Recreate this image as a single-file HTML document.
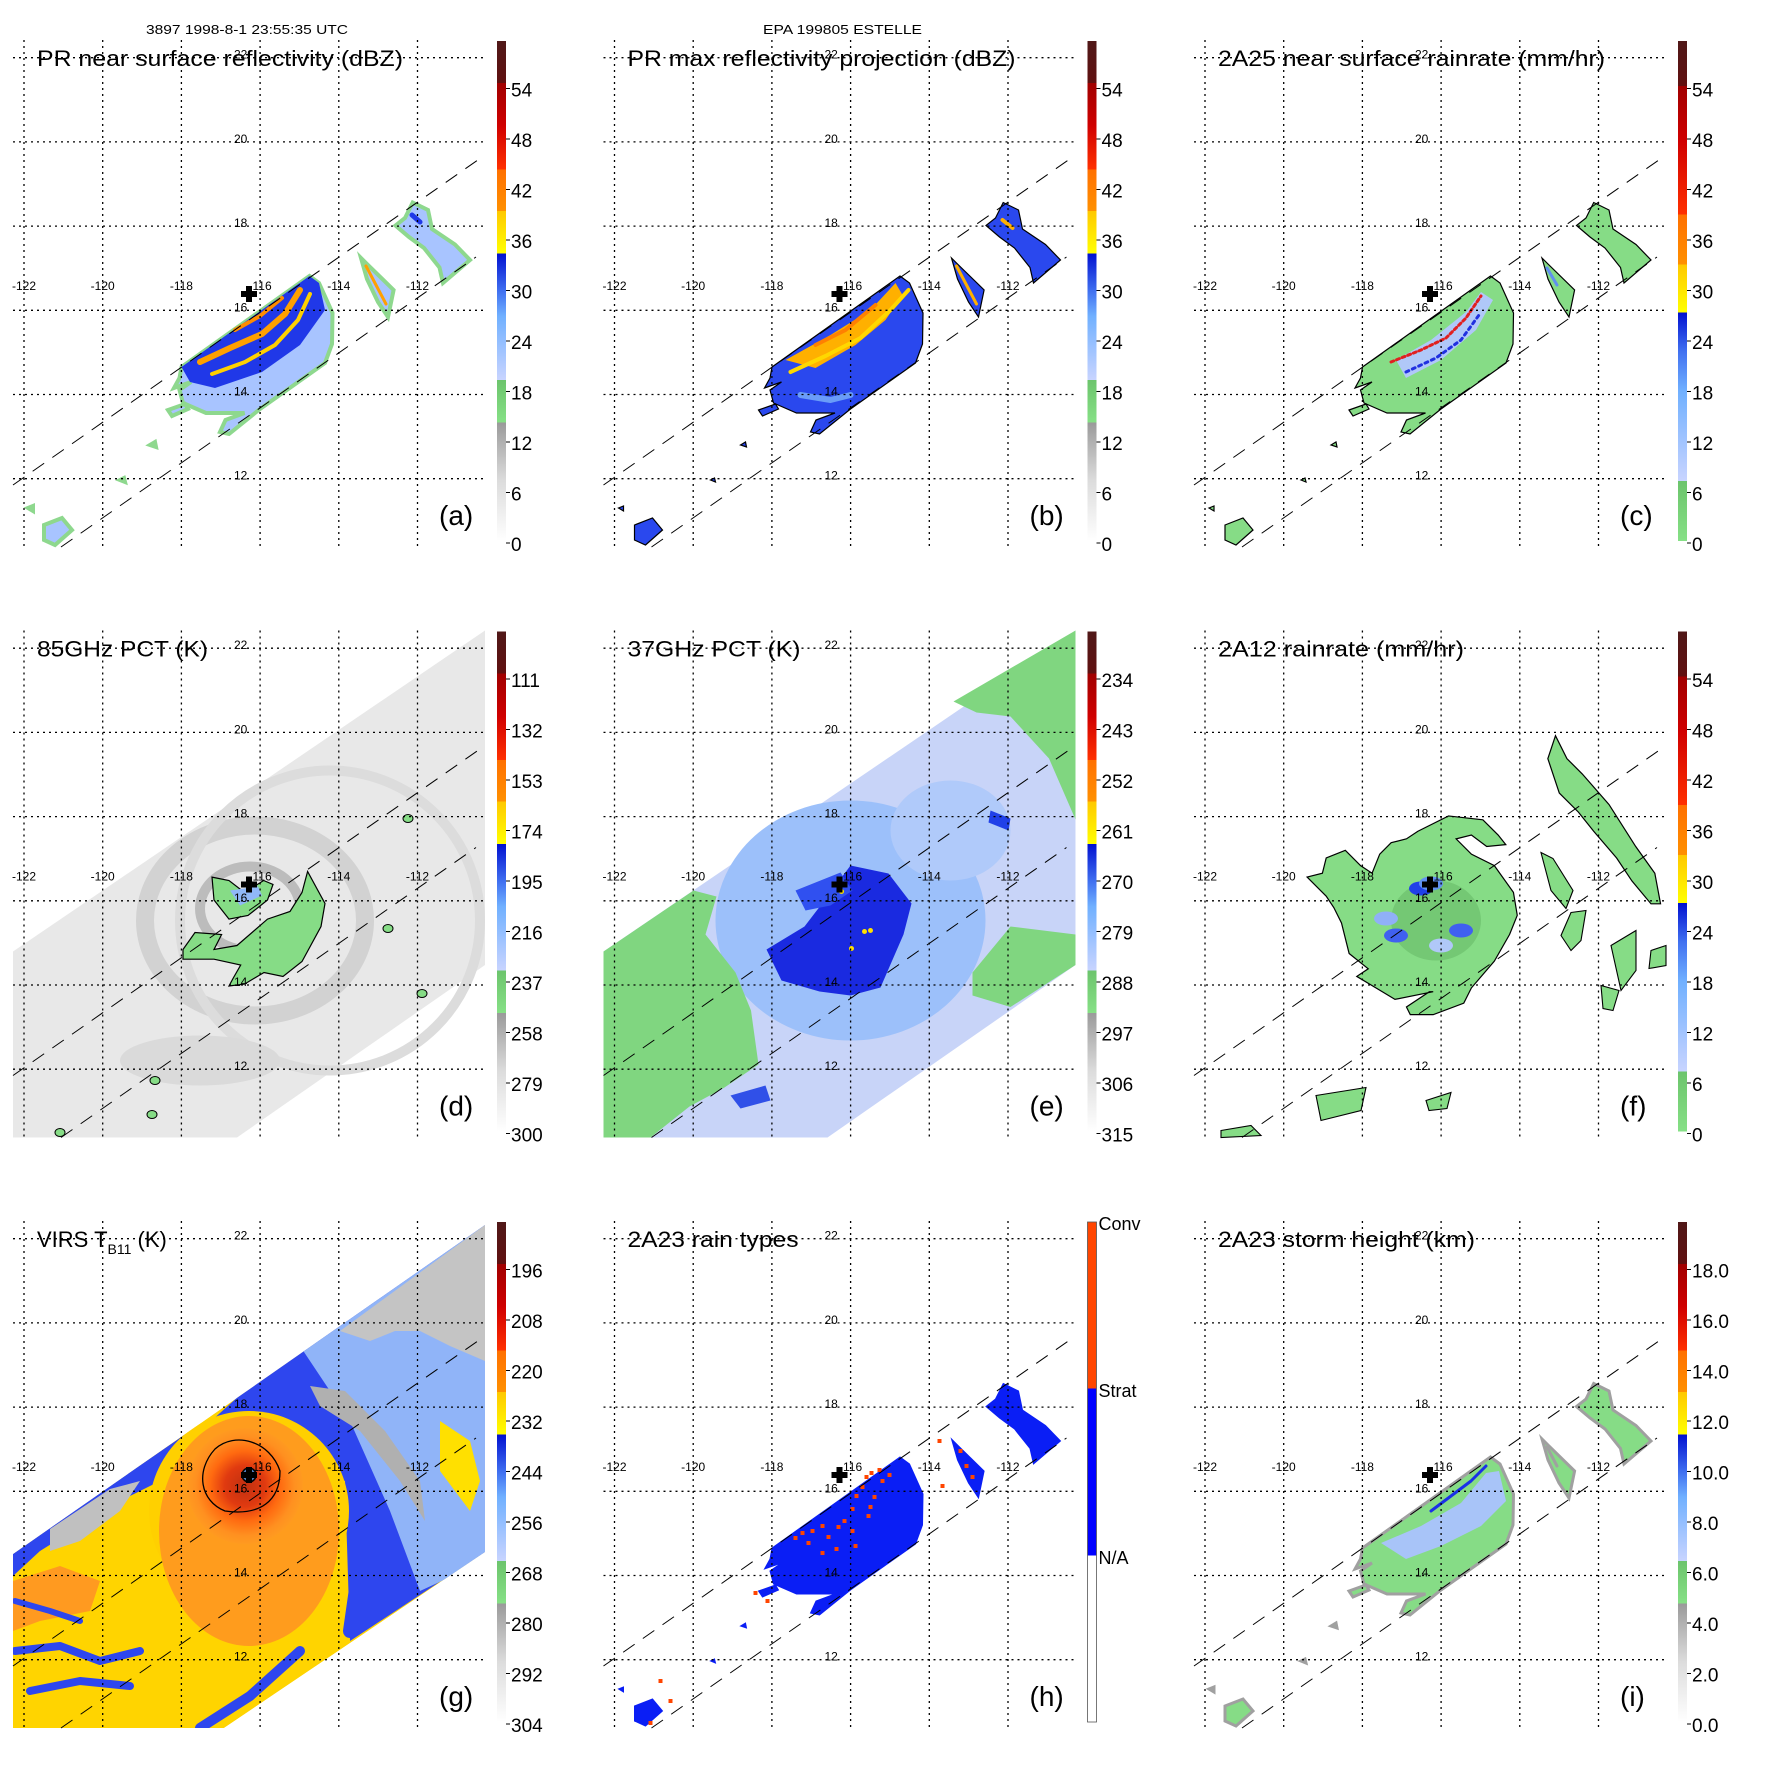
<!DOCTYPE html>
<html><head><meta charset="utf-8">
<style>
html,body{margin:0;padding:0;background:#fff;}
svg{display:block;font-family:"Liberation Sans",Arial,sans-serif;}
</style></head>
<body>
<svg id="fig" width="1771" height="1771" viewBox="0 0 1771 1771" xmlns="http://www.w3.org/2000/svg">
<text x="146" y="34" font-size="13" textLength="202" lengthAdjust="spacingAndGlyphs">3897 1998-8-1 23:55:35 UTC</text>
<text x="763" y="34" font-size="13" textLength="159" lengthAdjust="spacingAndGlyphs">EPA 199805 ESTELLE</text>
</svg>
<script>
// ---- data arrays ----
const lonTicks = [-122,-120,-118,-116,-114,-112];
const latTicks = [22,20,18,16,14,12];
const cbarA = ["0","6","12","18","24","30","36","42","48","54"];
const cbarC = ["0","6","12","18","24","30","36","42","48","54"];
const cbarD = ["300","279","258","237","216","195","174","153","132","111"];
const cbarE = ["315","306","297","288","279","270","261","252","243","234"];
const cbarG = ["304","292","280","268","256","244","232","220","208","196"];
const cbarI = ["0.0","2.0","4.0","6.0","8.0","10.0","12.0","14.0","16.0","18.0"];
const cbarH = ["N/A","Strat","Conv"];
const titles = ["PR near surface reflectivity (dBZ)","PR max reflectivity projection (dBZ)","2A25 near surface rainrate (mm/hr)",
  "85GHz PCT (K)","37GHz PCT (K)","2A12 rainrate (mm/hr)","VIRS","2A23 rain types","2A23 storm height (km)"];
const titleW = [366,388,387,171,173,246,146,171,257];
const letters = ["(a)","(b)","(c)","(d)","(e)","(f)","(g)","(h)","(i)"];

const NS="http://www.w3.org/2000/svg";
const fig=document.getElementById('fig');
const P=590.5;
const lonX = lon => 24 + (lon+122)*39.35;
const latY = lat => 57.7 + (22-lat)*42.1;
function mk(tag,attrs,parent){const e=document.createElementNS(NS,tag);for(const k in attrs)e.setAttribute(k,attrs[k]);parent.appendChild(e);return e;}
function pts(a){return a.map(p=>p.join(',')).join(' ');}

const palStd=[[0,'#ffffff'],[0.12,'#dcdcdc'],[0.237,'#9a9a9a'],[0.237,'#86e086'],[0.322,'#6cc46c'],[0.322,'#c8d4ff'],[0.45,'#70b0ff'],[0.5,'#4070f0'],[0.575,'#0010d0'],[0.575,'#ffff00'],[0.66,'#ffc800'],[0.66,'#ff9000'],[0.743,'#ff7000'],[0.743,'#ff3000'],[0.83,'#d00000'],[0.916,'#a00000'],[0.916,'#601010'],[1,'#501818']];
const palRain=[[0,'#86e086'],[0.12,'#6cc46c'],[0.12,'#c8d4ff'],[0.3,'#70b0ff'],[0.38,'#4070f0'],[0.457,'#0010d0'],[0.457,'#ffff00'],[0.553,'#ffc800'],[0.553,'#ff9000'],[0.653,'#ff7000'],[0.653,'#ff3000'],[0.8,'#d00000'],[0.91,'#a00000'],[0.91,'#601010'],[1,'#501818']];

const defs=mk('defs',{},fig);
function grad(id,pal){const g=mk('linearGradient',{id:id,x1:0,y1:1,x2:0,y2:0},defs);pal.forEach(s=>mk('stop',{offset:s[0],'stop-color':s[1]},g));}
grad('pstd',palStd);grad('prain',palRain);
const gh=mk('linearGradient',{id:'phh',x1:0,y1:1,x2:0,y2:0},defs);
[[0,'#fff'],[0.333,'#fff'],[0.333,'#0000ff'],[0.667,'#0000ff'],[0.667,'#ff4500'],[1,'#ff4500']].forEach(s=>mk('stop',{offset:s[0],'stop-color':s[1]},gh));
const rg=mk('radialGradient',{id:'gEye',cx:0.5,cy:0.5,r:0.5},defs);
[[0,'#c03010'],[0.35,'#e03a10'],[0.6,'#ff6a10'],[0.85,'#ff9020'],[1,'#ff9a20']].forEach(s=>mk('stop',{offset:s[0],'stop-color':s[1]},rg));

const prBlob=[[181.5,367],[309.5,276],[319,283],[332.5,313],[332,344],[325,363],[260,409],[229,434],[220,432],[225.5,420],[244.5,413],[206,413],[183,403],[179.5,390],[191,382],[174,388],[179.5,378]];
const prRight=[[412.7,202.5],[428,210],[432,229],[455,244.5],[470,260],[443,283],[439.5,267.5],[424,248],[409,237],[395.5,225.5],[405,218]];
const prMid=[[361,258],[367,264],[393.6,290],[388,317],[378,302],[367,279]];
const prBL=[[44,525],[62,518],[72,530],[55,545],[44,540]];
const tmiSwath=[[13,361],[485,40],[485,374.5],[237,547],[13,547]];
const virsSwath=[[13,373],[485,44],[485,371],[224,547],[13,547]];
const convDots=[[205,357],[212,352],[222,350],[232,345],[238,356],[248,346],[254,340],[262,328],[266,315],[272,306],[276,296],[281,292],[289,289],[292,300],[284,316],[278,335],[262,350],[246,368],[232,372],[218,362],[265,365],[280,326],[299,294],[370,270],[376,285],[382,296],[349,260],[352,305],[70,500],[80,520],[60,542],[165,412],[177,420]];

function panel(idx){
  const col=idx%3,row=Math.floor(idx/3);
  const g=mk('g',{transform:`translate(${col*P},${row*P})`},fig);
  
  
  const f=mk('g',{},g);
  
  
  drawField(idx,f);
  const gr=mk('g',{stroke:'#000','stroke-width':1.3,'stroke-dasharray':'2,4',fill:'none'},g);
  
  
  lonTicks.forEach(l=>mk('line',{x1:lonX(l),x2:lonX(l),y1:40,y2:547},gr));
  latTicks.forEach(l=>mk('line',{x1:13,x2:486,y1:latY(l),y2:latY(l)},gr));
  const sw=mk('g',{stroke:'#000','stroke-width':1,'stroke-dasharray':'14,10',fill:'none'},g);
  
  
  mk('line',{x1:13,y1:485,x2:485,y2:155},sw);
  mk('line',{x1:61,y1:547,x2:476,y2:257},sw);
  lonTicks.forEach(l=>{const t=mk('text',{x:lonX(l),y:290,'font-size':12,'text-anchor':'middle'},g);t.textContent=l;
    });
  latTicks.forEach(l=>{const t=mk('text',{x:234,y:latY(l)+1,'font-size':12},g);t.textContent=l;
    });
  const cr=mk('path',{d:'M246,286h6v5h5v6h-5v5h-6v-5h-5v-6h5z',fill:'#000'},g);
  
  
  let t;
  if(idx===6){
    t=mk('text',{x:37,y:66,'font-size':22},g);
    t.innerHTML='VIRS T<tspan font-size="14" dy="7">B11</tspan><tspan dy="-7"> (K)</tspan>';
  } else {
    t=mk('text',{x:37,y:66,'font-size':22,textLength:titleW[idx],lengthAdjust:'spacingAndGlyphs'},g);
    t.textContent=titles[idx];
  }
  
  
  const lt=mk('text',{x:439,y:525,'font-size':28},g);lt.textContent=letters[idx];
  
  const cb=mk('g',{},g);
  
  
  const fillId = idx===7?'phh':(idx===2||idx===5)?'prain':'pstd';
  mk('rect',{x:497,y:41,width:9,height:500,fill:`url(#${fillId})`,stroke:idx===7?'#555':'none','stroke-width':0.8},cb);
  const labs={0:cbarA,1:cbarA,2:cbarC,3:cbarD,4:cbarE,5:cbarC,6:cbarG,8:cbarI}[idx];
  if(idx===7){
    cbarH.forEach((s,i)=>{
      const yy=[375,208,41][i];
      const tx=mk('text',{x:508,y:yy+8,'font-size':18},cb);tx.textContent=s;
      });
  } else {
    labs.forEach((s,i)=>{const y=543-i*50.5;
      mk('line',{x1:506,x2:510,y1:y,y2:y,stroke:'#000','stroke-width':1},cb);
      const tx=mk('text',{x:511,y:y+8,'font-size':19},cb);tx.textContent=s;
      });
  }
}

function poly(p,a,parent){return mk('polygon',Object.assign({points:pts(p)},a),parent);}
function line(p,a,parent){return mk('polyline',Object.assign({points:pts(p),fill:'none','stroke-linecap':'round','stroke-linejoin':'round'},a),parent);}

function prBase(f,fill,stroke,sw){
  [prBlob,prRight,prMid,prBL].forEach(p=>poly(p,{fill:fill,stroke:stroke,'stroke-width':sw},f));
  [[[168,410],[185,404],[188,409],[172,416]],[[150,445],[155,442],[156,447]],[[120,480],[124,478],[125,482]],[[28,508],[33,506],[33,511]]].forEach(p=>poly(p,{fill:fill,stroke:stroke,'stroke-width':sw},f));
}

function drawField(i,f){
  if(i===0){
    prBase(f,'#a8c4ff','#8ed88e',4);
    poly([[181.5,367],[309.5,276],[319,283],[325,310],[300,345],[262,372],[215,388],[190,382]],{fill:'#2038e8'},f);
    line([[200,362],[230,348],[262,334],[285,314],[300,290]],{stroke:'#ffa000','stroke-width':6},f);
    line([[212,374],[245,362],[275,345],[298,320],[310,294]],{stroke:'#ffd000','stroke-width':4},f);
    line([[235,330],[260,316],[282,298]],{stroke:'#ff8c00','stroke-width':4},f);
    line([[366,266],[376,285],[386,304]],{stroke:'#ffa000','stroke-width':3},f);
    line([[412,215],[420,222]],{stroke:'#2038e8','stroke-width':5},f);
  } else if(i===1){
    prBase(f,'#2a48ee','#000',1.2);
    poly([[195,360],[240,335],[280,310],[305,283],[312,295],[295,320],[265,345],[225,368]],{fill:'#ffb000'},f);
    line([[200,372],[235,356],[270,338],[300,310],[318,290]],{stroke:'#ffd800','stroke-width':4},f);
    line([[225,345],[255,330],[285,305]],{stroke:'#ff8000','stroke-width':4},f);
    line([[210,395],[240,400],[260,395]],{stroke:'#6a9cf8','stroke-width':6},f);
    line([[366,266],[376,285],[386,304]],{stroke:'#ffb000','stroke-width':3},f);
    line([[412,220],[422,228]],{stroke:'#ffb000','stroke-width':4},f);
  } else if(i===2){
    prBase(f,'#86dc86','#000',1.2);
    poly([[215,360],[250,340],[285,312],[300,292],[312,300],[295,330],[260,360],[225,378]],{fill:'#b0c8f8'},f);
    line([[210,362],[240,350],[265,338],[285,318],[300,296]],{stroke:'#e02020','stroke-width':3,'stroke-dasharray':'3,3'},f);
    line([[225,372],[255,358],[280,340],[298,315]],{stroke:'#2030e0','stroke-width':3,'stroke-dasharray':'3,4'},f);
    line([[366,268],[376,285]],{stroke:'#6090f0','stroke-width':3},f);
  } else if(i===3){
    poly(tmiSwath,{fill:'#e8e8e8'},f);
    mk('ellipse',{cx:255,cy:330,rx:110,ry:95,fill:'none',stroke:'#d2d2d2','stroke-width':18},f);
    mk('ellipse',{cx:250,cy:318,rx:50,ry:42,fill:'none',stroke:'#bcbcbc','stroke-width':10},f);
    mk('ellipse',{cx:330,cy:330,rx:150,ry:150,fill:'none',stroke:'#dcdcdc','stroke-width':10},f);
    mk('ellipse',{cx:200,cy:470,rx:80,ry:25,fill:'#dadada'},f);
    const big=[[183,359],[195,342],[221.6,344],[214,359],[237,355],[267.5,328.6],[290,321],[302,302],[307.6,281],[325,313],[321,336],[302,371],[283,386],[264,382],[244.5,393.6],[229,395.5],[233,388],[240.7,374.5],[214,368.7],[183,368.7]];
    const eye=[[212,286.6],[229,290],[244.5,302],[263.6,290],[273,294],[267.5,309.5],[248,325],[229,328.6],[214,309.5]];
    poly(big,{fill:'#86dc86',stroke:'#000','stroke-width':1.2},f);
    poly(eye,{fill:'#86dc86',stroke:'#000','stroke-width':1.2},f);
    poly([[230,300],[258,296],[262,305],[240,315]],{fill:'#90b8f8'},f);
    [[408,228],[388,338],[422,403],[152,524],[60,542],[155,490]].forEach(c=>mk('ellipse',{cx:c[0],cy:c[1],rx:5,ry:4,fill:'#86dc86',stroke:'#000','stroke-width':1},f));
  } else if(i===4){
    poly(tmiSwath,{fill:'#c8d4f8'},f);
    mk('ellipse',{cx:260,cy:330,rx:135,ry:120,fill:'#9cc0fa'},f);
    mk('ellipse',{cx:360,cy:240,rx:60,ry:50,fill:'#b0cafa'},f);
    poly([[13,361],[103,300],[126,306],[115,344],[145,382],[160.5,420],[168,474],[134,497],[99,516],[60,547],[13,547]],{fill:'#80d680'},f);
    poly([[363,111],[485,40],[485,229],[458.5,168],[420,126],[386,122]],{fill:'#80d680'},f);
    poly([[382,382],[420,336],[485,344],[485,374.5],[420,416.5],[382,405]],{fill:'#80d680'},f);
    poly([[176,359],[214,336],[237,306],[260,275],[298,283],[321,313],[313,344],[290,397],[260,405],[229,401],[191,390]],{fill:'#1a2ae0'},f);
    poly([[205,300],[250,282],[262,300],[240,315],[215,320]],{fill:'#3050f0'},f);
    poly([[400,220],[420,228],[418,240],[398,232]],{fill:'#2040e8'},f);
    poly([[140,505],[175,495],[180,510],[150,518]],{fill:'#3050e8'},f);
    [[251,301],[274,341],[280,340],[261,358]].forEach(c=>mk('circle',{cx:c[0],cy:c[1],r:2.5,fill:'#ffe000'},f));
  } else if(i===5){
    const disk=[[620,630],[700,590],[790,600],[830,640],[850,665],[800,670],[760,640],[720,650],[760,690],[820,720],[870,790],[880,850],[860,900],[820,970],[760,1040],[740,1080],[660,1110],[600,1110],[590,1090],[650,1050],[660,1050],[560,1070],[510,1040],[460,1010],[490,990],[440,950],[420,870],[400,830],[380,800],[330,750],[370,740],[380,700],[430,680],[470,720],[500,740],[520,690],[550,660],[590,650]].map(p=>[p[0]/2.617,p[1]/2.617]);
    const arc=[[980,380],[1010,440],[1050,480],[1120,560],[1190,670],[1240,740],[1255,820],[1230,820],[1180,760],[1140,700],[1080,630],[1040,580],[990,530],[960,440]].map(p=>[p[0]/2.617,p[1]/2.617]);
    poly(disk,{fill:'#86dc86',stroke:'#000','stroke-width':1.2},f);
    poly(arc,{fill:'#86dc86',stroke:'#000','stroke-width':1.2},f);
    mk('ellipse',{cx:255,cy:330,rx:45,ry:40,fill:'#74c874'},f);
    [[240,298,'#2040e8'],[250,293,'#6090f0'],[215,345,'#4060f0'],[205,328,'#90b0f8'],[280,340,'#4060f0'],[260,355,'#b0c8f8']].forEach(c=>mk('ellipse',{cx:c[0],cy:c[1],rx:12,ry:7,fill:c[2]},f));
    [[[360,262],[372,268],[392,300],[385,318],[370,300]],[[390,322],[405,320],[400,350],[390,360],[380,345]],[[430,355],[455,340],[455,380],[440,400]],[[470,360],[485,355],[485,375],[468,378]],[[420,395],[438,400],[432,420],[422,418]],[[135,505],[185,497],[180,520],[140,530]],[[245,510],[270,502],[266,518],[248,520]],[[40,540],[70,535],[80,545],[40,547]]].forEach(p=>poly(p,{fill:'#86dc86',stroke:'#000','stroke-width':1.1},f));
  } else if(i===6){
    const cp=mk('clipPath',{id:'clipG'},defs);poly(virsSwath,{},cp);
    const h=mk('g',{'clip-path':'url(#clipG)'},f);
    poly(virsSwath,{fill:'#ffd400'},h);
    poly([[200,250],[300,160],[485,40],[485,371],[350,460],[345,300]],{fill:'#2e46ee'},h);
    poly([[300,165],[485,40],[485,380],[420,410],[390,330],[350,240]],{fill:'#90b4f8'},h);
    poly([[340,150],[485,44],[485,180],[450,165],[420,150],[395,150],[370,160]],{fill:'#c4c4c4'},h);
    poly([[310,205],[345,210],[385,250],[420,300],[425,340],[400,300],[360,250],[320,225]],{fill:'#b0b0b0'},h);
    poly([[13,373],[100,312],[190,250],[160,300],[120,320],[80,345],[40,370],[13,395]],{fill:'#2e46ee'},h);
    poly([[50,348],[110,308],[140,300],[120,330],[80,360],[50,370]],{fill:'#c0c0c0'},h);
    poly([[440,240],[470,260],[480,300],[470,330],[440,290]],{fill:'#ffe000'},h);
    poly([[13,400],[60,385],[100,400],[90,430],[40,440],[13,450]],{fill:'#ff9a20'},h);
    mk('circle',{cx:249,cy:330,r:100,fill:'#ffd000'},h);
    mk('ellipse',{cx:249,cy:350,rx:90,ry:115,fill:'#ff9620',opacity:0.9},h);
    mk('circle',{cx:245,cy:305,r:58,fill:'url(#gEye)'},h);
    line([[15,470],[60,465],[100,480],[140,470]],{stroke:'#2e46ee','stroke-width':8},h);
    line([[15,420],[50,430],[80,440]],{stroke:'#2e46ee','stroke-width':6},h);
    line([[30,510],[80,500],[130,505]],{stroke:'#2e46ee','stroke-width':8},h);
    line([[200,547],[250,515],[300,470]],{stroke:'#2e46ee','stroke-width':10},h);
    line([[345,250],[365,300],[360,380],[350,450]],{stroke:'#2e46ee','stroke-width':14},h);
    mk('circle',{cx:249,cy:294,r:7,fill:'#5080c0',stroke:'#000','stroke-width':1.5},h);
    mk('path',{d:'M215,268 C235,250 270,260 280,290 C280,320 260,335 225,330 C200,320 195,290 215,268Z',fill:'none',stroke:'#000','stroke-width':1.3},h);
  } else if(i===7){
    prBase(f,'#0a1ef5','#0a1ef5',1);
    convDots.forEach(c=>mk('rect',{x:c[0]-2,y:c[1]-2,width:4,height:4,fill:'#ff4500'},f));
  } else if(i===8){
    prBase(f,'#86dc86','#a0a0a0',3);
    poly([[200,362],[240,345],[280,322],[305,292],[318,290],[325,320],[300,345],[260,365],[225,378]],{fill:'#a8c4f8'},f);
    line([[250,330],[290,300],[305,285]],{stroke:'#1a30e8','stroke-width':3},f);
    line([[366,266],[376,285]],{stroke:'#a0a0a0','stroke-width':3},f);
  }
}
for(let k=0;k<9;k++)panel(k);
</script>
</body></html>
